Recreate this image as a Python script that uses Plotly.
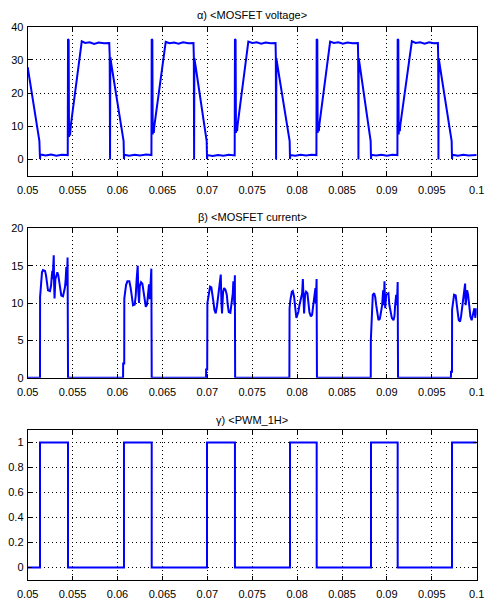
import plotly.graph_objects as go

# ---------------- data ----------------
titles = ["\u03b1) <MOSFET voltage>", "\u03b2) <MOSFET current>", "\u03b3) <PWM_1H>"]

x_tick_vals = [0.05, 0.055, 0.06, 0.065, 0.07, 0.075, 0.08, 0.085, 0.09, 0.095, 0.1]
x_tick_text = ["0.05", "0.055", "0.06", "0.065", "0.07", "0.075", "0.08", "0.085", "0.09", "0.095", "0.1"]

v_ticks = [0, 10, 20, 30, 40]
i_ticks = [0, 5, 10, 15, 20]
p_ticks = [0, 0.2, 0.4, 0.6, 0.8, 1]
p_tick_text = ["0", "0.2", "0.4", "0.6", "0.8", "1"]

# MOSFET voltage
volt_t = [
    0.05000, 0.05130, 0.05137, 0.05141, 0.05200, 0.05260, 0.05320, 0.05380, 0.05446,
    0.05449, 0.05452, 0.05456, 0.05460, 0.05466, 0.05472, 0.05478, 0.05602, 0.05640,
    0.05690, 0.05740, 0.05790, 0.05850, 0.05908, 0.05913, 0.05917, 0.05920, 0.05935,
    0.06068, 0.06072, 0.06076, 0.06130, 0.06190, 0.06250, 0.06320, 0.06378,
    0.06381, 0.06384, 0.06388, 0.06392, 0.06398, 0.06404, 0.06410, 0.06537, 0.06580,
    0.06630, 0.06680, 0.06730, 0.06790, 0.06846, 0.06850, 0.06853, 0.06856, 0.06870,
    0.06993, 0.06997, 0.07001, 0.07060, 0.07120, 0.07180, 0.07240, 0.07305,
    0.07308, 0.07311, 0.07315, 0.07319, 0.07326, 0.07332, 0.07338, 0.07457, 0.07500,
    0.07550, 0.07600, 0.07650, 0.07705, 0.07760, 0.07763, 0.07766, 0.07769, 0.07783,
    0.07917, 0.07921, 0.07925, 0.07980, 0.08040, 0.08100, 0.08160, 0.08215,
    0.08218, 0.08221, 0.08225, 0.08229, 0.08236, 0.08242, 0.08248, 0.08368, 0.08410,
    0.08460, 0.08510, 0.08560, 0.08620, 0.08677, 0.08680, 0.08683, 0.08686, 0.08700,
    0.08819, 0.08823, 0.08827, 0.08880, 0.08940, 0.09000, 0.09060, 0.09117,
    0.09120, 0.09123, 0.09127, 0.09131, 0.09138, 0.09144, 0.09150, 0.09278, 0.09320,
    0.09370, 0.09420, 0.09470, 0.09520, 0.09568, 0.09571, 0.09574, 0.09577, 0.09591,
    0.09721, 0.09725, 0.09729, 0.09790, 0.09850, 0.09910, 0.09970, 0.10000,
]
volt_v = [
    27.8, 5.6, 0.1, 1.5, 1.2, 1.5, 1.1, 1.4, 1.3,
    36.3, 6.2, 36.0, 6.8, 10.5, 7.2, 9.8, 35.6, 35.1,
    35.3, 34.8, 35.2, 35.0, 35.1, 31.5, 0.0, 30.8, 28.0,
    5.5, 0.1, 1.4, 1.1, 1.4, 1.2, 1.5, 1.3,
    36.3, 7.0, 36.0, 7.5, 11.0, 8.0, 10.0, 35.4, 35.0,
    35.2, 34.9, 35.3, 35.0, 35.1, 31.0, 0.0, 30.5, 28.0,
    5.5, 0.1, 1.3, 1.0, 1.3, 1.1, 1.4, 1.2,
    36.3, 7.5, 36.0, 8.0, 11.0, 8.5, 10.5, 35.5, 35.1,
    35.3, 34.9, 35.2, 35.0, 35.1, 31.0, 0.0, 30.5, 28.0,
    5.5, 0.1, 1.3, 1.1, 1.4, 1.2, 1.4, 1.3,
    36.3, 7.7, 36.0, 8.0, 11.0, 8.5, 10.5, 35.5, 35.1,
    35.3, 34.9, 35.2, 35.0, 35.1, 31.0, 0.0, 30.5, 28.0,
    5.5, 0.1, 1.4, 1.2, 1.4, 1.1, 1.4, 1.3,
    36.3, 7.0, 36.0, 7.5, 11.0, 8.5, 10.5, 35.6, 35.1,
    35.3, 34.9, 35.3, 35.0, 35.1, 31.0, 0.0, 30.5, 28.0,
    5.5, 0.1, 1.4, 1.1, 1.4, 1.2, 1.4, 1.3,
]

# MOSFET current
curr_t = [
    0.05000, 0.05137, 0.05138, 0.05148, 0.05159, 0.05170, 0.05193, 0.05204, 0.05215,
    0.05226, 0.05248, 0.05260, 0.05267, 0.05274, 0.05278, 0.05282, 0.05290, 0.05294,
    0.05299, 0.05308, 0.05319, 0.05330, 0.05341, 0.05352, 0.05363, 0.05374, 0.05393,
    0.05404, 0.05415, 0.05423, 0.05430, 0.05436, 0.05444, 0.05449,
    0.06062, 0.06063, 0.06075, 0.06076, 0.06095, 0.06110, 0.06132, 0.06147, 0.06162,
    0.06173, 0.06192, 0.06203, 0.06214, 0.06225, 0.06232, 0.06240, 0.06248, 0.06262,
    0.06277, 0.06292, 0.06303, 0.06315, 0.06329, 0.06340, 0.06351, 0.06359, 0.06377,
    0.06381,
    0.06986, 0.06987, 0.06999, 0.07001, 0.07016, 0.07031, 0.07045, 0.07056, 0.07068,
    0.07079, 0.07094, 0.07109, 0.07123, 0.07138, 0.07150, 0.07157, 0.07164, 0.07176,
    0.07187, 0.07201, 0.07217, 0.07228, 0.07239, 0.07257, 0.07268, 0.07284, 0.07290,
    0.07302, 0.07307, 0.07310,
    0.07914, 0.07916, 0.07925, 0.07941, 0.07952, 0.07967, 0.07978, 0.07992, 0.08003,
    0.08014, 0.08026, 0.08041, 0.08056, 0.08064, 0.08070, 0.08078, 0.08089, 0.08100,
    0.08115, 0.08126, 0.08137, 0.08153, 0.08167, 0.08178, 0.08193, 0.08204, 0.08208,
    0.08217, 0.08221,
    0.08820, 0.08821, 0.08832, 0.08843, 0.08858, 0.08870, 0.08881, 0.08895, 0.08906,
    0.08922, 0.08933, 0.08947, 0.08958, 0.08966, 0.08973, 0.08981, 0.08992, 0.09007,
    0.09017, 0.09028, 0.09044, 0.09055, 0.09073, 0.09084, 0.09092, 0.09103, 0.09111,
    0.09120, 0.09124,
    0.09713, 0.09714, 0.09725, 0.09726, 0.09737, 0.09748, 0.09766, 0.09777, 0.09788,
    0.09800, 0.09815, 0.09826, 0.09837, 0.09852, 0.09863, 0.09871, 0.09877, 0.09885,
    0.09893, 0.09904, 0.09915, 0.09930, 0.09944, 0.09960, 0.09974, 0.09985, 0.10000,
]
curr_i = [
    0, 0, 10.8, 12.8, 14.1, 14.4, 14.3, 13.7, 12.6,
    11.7, 11.6, 12.3, 13.4, 14.3, 13.2, 15.4, 16.4, 12.6,
    10.6, 13.2, 13.9, 14.1, 13.7, 12.6, 11.7, 11.0, 10.9,
    11.4, 12.1, 13.2, 14.8, 12.3, 16.1, 0,
    0, 1.9, 1.9, 10.6, 12.4, 12.9, 12.9, 12.0, 10.5,
    9.7, 9.8, 11.0, 13.3, 15.0, 11.5, 10.0, 12.3, 12.8,
    12.6, 11.5, 10.2, 9.5, 9.8, 11.5, 12.5, 10.5, 14.6,
    0,
    0, 1.1, 1.1, 10.0, 11.5, 12.2, 12.1, 11.4, 10.2,
    9.1, 8.6, 9.7, 11.3, 12.4, 13.8, 10.2, 8.6, 11.5,
    12.0, 11.8, 11.1, 9.7, 8.8, 8.7, 9.7, 11.3, 12.9,
    9.7, 13.7, 0,
    0, 9.3, 10.4, 11.5, 11.6, 10.8, 9.5, 8.0, 8.4,
    8.8, 9.7, 10.4, 11.3, 13.2, 9.7, 8.6, 11.1, 11.5,
    11.3, 10.2, 8.8, 8.2, 8.4, 9.5, 10.8, 12.0, 9.9,
    13.2, 0,
    0, 5.0, 9.7, 11.1, 11.3, 10.8, 9.7, 8.6, 7.7,
    7.9, 8.8, 9.7, 11.7, 9.7, 12.9, 9.3, 11.1, 11.3,
    11.3, 9.7, 8.6, 8.0, 7.7, 8.2, 9.7, 11.1, 9.7,
    12.8, 0,
    0, 0.8, 0.8, 9.1, 10.4, 11.1, 11.0, 10.2, 8.8,
    7.7, 7.5, 8.2, 9.3, 10.3, 11.5, 12.6, 9.7, 11.1,
    11.7, 11.1, 9.7, 8.2, 7.7, 8.6, 9.3, 8.0, 9.3,
]

# PWM gate signal (edges, held until next edge)
pwm_t = [0.05, 0.05137, 0.05449, 0.06072, 0.06381, 0.06997, 0.07308,
         0.07921, 0.08218, 0.08823, 0.09120, 0.09725, 0.10000]
pwm_v = [0, 1, 0, 1, 0, 1, 0, 1, 0, 1, 0, 1, 1]

# ---------------- figure ----------------
# the page body has an 8px margin, so the figure is shifted by OFF px
OFF = 8
W, H = 495 - OFF, 604 - OFF
FONT = "Liberation Sans, Arial, Helvetica, sans-serif"
BLUE = "#0000ff"

def px_x(p):
    return (p - OFF) / W

def px_y(p):
    return 1 - (p - OFF) / H

x_dom = [px_x(27.7), px_x(476.7)]
panels = [  # (top px, bottom px) in window pixels
    (26.7, 176.0),
    (228.3, 377.7),
    (430.0, 580.0),
]
title_y = [15.5, 217.0, 420.0]
y_ranges = [[-5, 40], [0, 20], [-0.1, 1.1]]
y_tickvals = [v_ticks, i_ticks, p_ticks]
y_ticktext = [[str(v) for v in v_ticks], [str(v) for v in i_ticks], p_tick_text]

fig = go.Figure()
fig.add_trace(go.Scatter(x=volt_t, y=volt_v, mode="lines",
                         line=dict(color=BLUE, width=2), xaxis="x", yaxis="y"))
fig.add_trace(go.Scatter(x=curr_t, y=curr_i, mode="lines",
                         line=dict(color=BLUE, width=2), xaxis="x2", yaxis="y2"))
fig.add_trace(go.Scatter(x=pwm_t, y=pwm_v, mode="lines",
                         line=dict(color=BLUE, width=2, shape="hv"), xaxis="x3", yaxis="y3"))

common = dict(
    showline=True, linecolor="black", linewidth=1, mirror="ticks",
    ticks="inside", ticklen=4, tickcolor="black", tickwidth=1,
    showgrid=True, gridcolor="black", gridwidth=1, griddash="1px,3px",
    zeroline=False, automargin=False,
    tickfont=dict(family=FONT, size=11, color="black"),
)

layout = dict(
    width=W, height=H,
    margin=dict(l=0, r=0, t=0, b=0, pad=0),
    paper_bgcolor="white", plot_bgcolor="white",
    showlegend=False,
    font=dict(family=FONT, size=11, color="black"),
    annotations=[],
)

for k in range(3):
    sx = "" if k == 0 else str(k + 1)
    top, bot = panels[k]
    layout["xaxis" + sx] = dict(
        common, domain=x_dom, range=[0.05, 0.1], anchor="y" + sx,
        tickvals=x_tick_vals, ticktext=x_tick_text, ticklabelstandoff=4,
    )
    layout["yaxis" + sx] = dict(
        common, domain=[px_y(bot), px_y(top)], range=y_ranges[k], anchor="x" + sx,
        tickvals=y_tickvals[k], ticktext=y_ticktext[k], ticklabelstandoff=1,
    )
    layout["annotations"].append(dict(
        text=titles[k], x=(x_dom[0] + x_dom[1]) / 2, y=px_y(title_y[k]),
        xref="paper", yref="paper", xanchor="center", yanchor="middle",
        showarrow=False, font=dict(family=FONT, size=11, color="black"),
    ))

fig.update_layout(**layout)
fig.write_html("out.html")
